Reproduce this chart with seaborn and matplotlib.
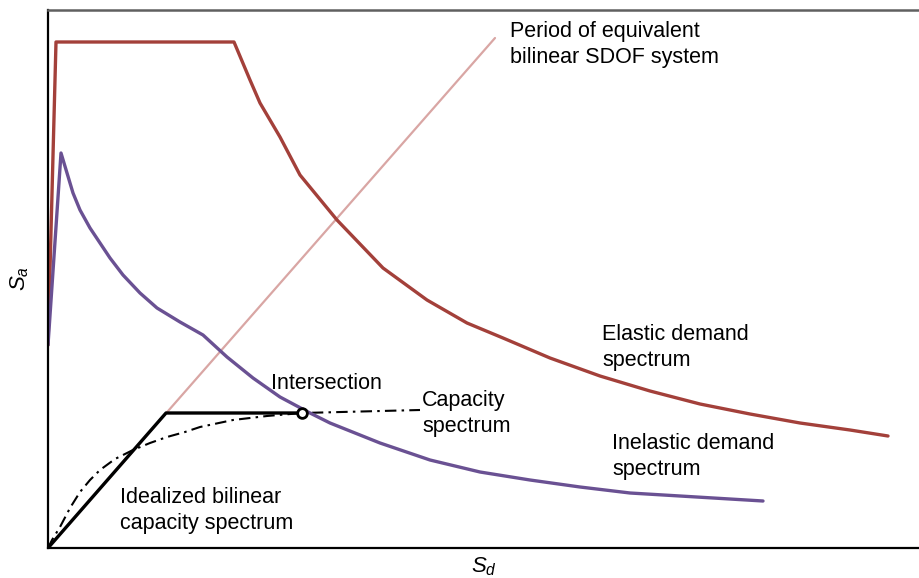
import matplotlib
matplotlib.use("Agg")
import matplotlib.pyplot as plt
import seaborn as sns

sns.set_theme(style="white")
plt.rcParams["font.family"] = ["Liberation Sans", "DejaVu Sans"]
plt.rcParams["mathtext.fontset"] = "custom"
plt.rcParams["mathtext.it"] = "Liberation Sans:italic"
plt.rcParams["mathtext.rm"] = "Liberation Sans"

# Spectral displacement (Sd) / spectral acceleration (Sa), arbitrary units
elastic_sd = [0, 8, 186, 202, 212, 232, 252, 289, 335, 379, 419, 455, 502, 552, 602, 652, 702, 752, 802, 840]
elastic_sa = [203, 506, 506, 468, 445, 411, 373, 328, 280, 248, 225, 210, 190, 172, 157, 144, 134, 125, 118, 112]

inelastic_sd = [0, 13, 19, 25, 32, 42, 52, 62, 75, 92, 109, 132, 155, 179, 205, 232, 262, 282, 332, 382, 432, 482, 532, 582, 632, 715]
inelastic_sa = [203, 395, 375, 355, 338, 320, 305, 290, 273, 255, 240, 226, 213, 191, 170, 151, 135, 125, 105, 88, 76, 68, 61, 55, 52, 47]

capacity_sd = [0, 4, 12, 22, 32, 42, 52, 67, 85, 102, 119, 137, 152, 185, 219, 254, 372]
capacity_sa = [0, 8, 21, 40, 56, 68, 78, 89, 98, 105, 111, 116, 121, 128, 132, 135, 138]

bilinear_sd = [0, 118, 254]
bilinear_sa = [0, 135, 135]

period_sd = [0, 447]
period_sa = [0, 510]

intersection_sd = [254]
intersection_sa = [135]

fig = plt.figure(figsize=(9.19, 5.78), dpi=100)
ax = fig.add_axes([48 / 919, 30 / 578, 871 / 919, 538 / 578])

sns.lineplot(x=period_sd, y=period_sa, ax=ax, color="#D9A6A4", lw=1.6, sort=False)
sns.lineplot(x=capacity_sd, y=capacity_sa, ax=ax, color="black", lw=1.5,
             linestyle=(0, (5.5, 2.5, 1.2, 2.5)), sort=False)
sns.lineplot(x=elastic_sd, y=elastic_sa, ax=ax, color="#A3403A", lw=2.4, sort=False)
sns.lineplot(x=inelastic_sd, y=inelastic_sa, ax=ax, color="#6A5193", lw=2.4, sort=False)
sns.lineplot(x=bilinear_sd, y=bilinear_sa, ax=ax, color="black", lw=2.4, sort=False)
ax.plot(intersection_sd, intersection_sa, marker="o", ms=7, mfc="white",
        mec="black", mew=2, ls="none", zorder=5)

ax.set_xlim(0, 871)
ax.set_ylim(0, 538)
ax.set_xticks([])
ax.set_yticks([])

for side in ("left", "bottom"):
    ax.spines[side].set_color("black")
    ax.spines[side].set_linewidth(1.6)
ax.spines["top"].set_color("#606060")
ax.spines["top"].set_linewidth(1.8)
ax.spines["right"].set_visible(False)

ax.set_xlabel(r"$S_d$", fontsize=16, labelpad=5, color="black")
ax.set_ylabel(r"$S_a$", fontsize=16, labelpad=12, color="black")

fs = 15.5
kw = dict(fontsize=fs, va="top", ha="left", linespacing=1.3, color="black")
ax.text(462, 527, "Period of equivalent\nbilinear SDOF system", **kw)
ax.text(554, 224, "Elastic demand\nspectrum", **kw)
ax.text(564, 115, "Inelastic demand\nspectrum", **kw)
ax.text(374, 158, "Capacity\nspectrum", **kw)
ax.text(223, 175, "Intersection", **kw)
ax.text(72, 61, "Idealized bilinear\ncapacity spectrum", **kw)

fig.savefig("out.png", dpi=100)
